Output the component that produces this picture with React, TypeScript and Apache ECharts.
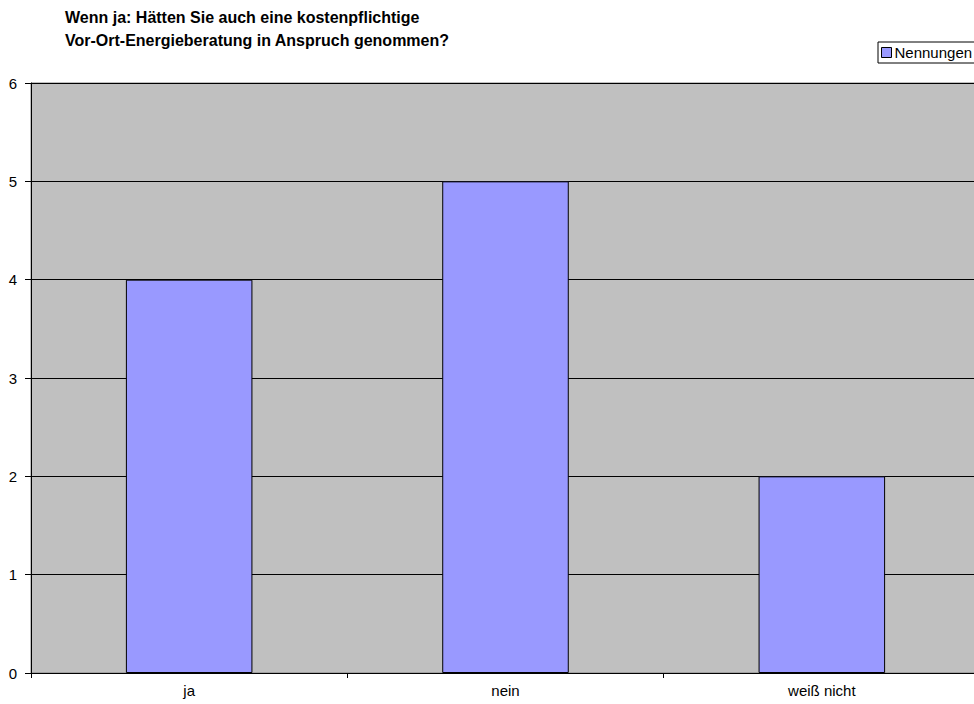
import React, { useEffect, useRef } from "react";
import * as echarts from "echarts";

const categories = ["ja", "nein", "weiß nicht"];
const nennungen = [4, 5, 2];
const seriesName = "Nennungen";
const titleLines = [
  "Wenn ja: Hätten Sie auch eine kostenpflichtige",
  "Vor-Ort-Energieberatung in Anspruch genommen?",
];

const FONT = "'Liberation Sans', Arial, sans-serif";

export default function App() {
  const ref = useRef<HTMLDivElement>(null);

  useEffect(() => {
    document.body.style.margin = "0";
    document.body.style.overflow = "hidden";
    const chart = echarts.init(ref.current!, null, { renderer: "svg" });
    chart.setOption({
      animation: false,
      backgroundColor: "#ffffff",
      textStyle: { fontFamily: FONT },
      title: {
        text: titleLines.join("\n"),
        left: 60,
        top: 1,
        textStyle: {
          fontFamily: FONT,
          fontSize: 16,
          fontWeight: "bold",
          color: "#000",
          lineHeight: 23,
        },
      },
      legend: {
        left: 878,
        top: 42,
        padding: [3, 12, 3, 3],
        itemWidth: 10,
        itemHeight: 10,
        itemGap: 4,
        borderColor: "#000",
        borderWidth: 1,
        backgroundColor: "#fff",
        borderRadius: 0,
        icon: "rect",
        textStyle: { fontFamily: FONT, fontSize: 15, color: "#000", padding: [0, 0, 0, -2] },
        data: [{ name: seriesName, itemStyle: { borderColor: "#000", borderWidth: 1 } }],
      },
      grid: {
        left: 31,
        right: 0,
        top: 83,
        bottom: 31,
        show: true,
        backgroundColor: "#C0C0C0",
        borderColor: "#808080",
        borderWidth: 1,
        containLabel: false,
      },
      xAxis: {
        type: "category",
        data: categories,
        axisLine: { show: true, lineStyle: { color: "#000", width: 1 } },
        axisTick: { show: true, interval: 0, length: 5, lineStyle: { color: "#000" } },
        axisLabel: { fontFamily: FONT, fontSize: 15, color: "#000", margin: 10 },
      },
      yAxis: {
        type: "value",
        min: 0,
        max: 6,
        interval: 1,
        axisLine: { show: true, lineStyle: { color: "#000", width: 1 } },
        axisTick: { show: true, length: 6, lineStyle: { color: "#000" } },
        axisLabel: { fontFamily: FONT, fontSize: 15, color: "#000", margin: 14 },
        splitLine: { show: true, lineStyle: { color: "#000", width: 1 } },
      },
      series: [
        {
          name: seriesName,
          type: "bar",
          data: nennungen,
          barWidth: "40%",
          itemStyle: { color: "#9999FF", borderColor: "#000", borderWidth: 1 },
        },
      ],
    });
    return () => chart.dispose();
  }, []);

  // The plot and legend box run a few pixels past the right edge of the window.
  return (
    <div style={{ width: 974, height: 704, overflow: "hidden" }}>
      <div ref={ref} style={{ width: 980, height: 704 }} />
    </div>
  );
}
